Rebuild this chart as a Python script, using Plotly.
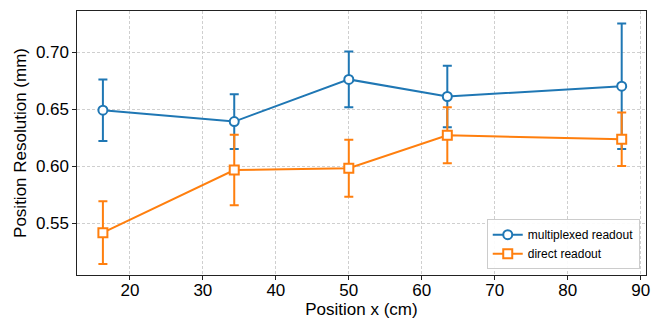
import plotly.graph_objects as go

x_pos = [16.3, 34.3, 50.0, 63.5, 87.4]
mux_res = [0.649, 0.639, 0.676, 0.661, 0.670]
mux_err = [0.027, 0.024, 0.0245, 0.027, 0.055]
dir_res = [0.5415, 0.5965, 0.598, 0.627, 0.6235]
dir_err = [0.0275, 0.031, 0.025, 0.0245, 0.0235]

blue = "#1f77b4"
orange = "#ff7f0e"
font = "Liberation Sans, Arial, sans-serif"

fig = go.Figure()
fig.add_trace(go.Scatter(
    x=x_pos, y=mux_res, name="multiplexed readout", mode="lines+markers",
    line=dict(color=blue, width=2),
    marker=dict(symbol="circle", size=9, color="white", line=dict(color=blue, width=2)),
    error_y=dict(type="data", array=mux_err, visible=True, color=blue, thickness=2, width=4.5),
))
fig.add_trace(go.Scatter(
    x=x_pos, y=dir_res, name="direct readout", mode="lines+markers",
    line=dict(color=orange, width=2),
    marker=dict(symbol="square", size=9, color="white", line=dict(color=orange, width=2)),
    error_y=dict(type="data", array=dir_err, visible=True, color=orange, thickness=2, width=4.5),
))

axis_common = dict(
    showline=True, linecolor="#222", linewidth=1.2, mirror=True,
    ticks="outside", ticklen=3.5, tickcolor="#222",
    showgrid=True, gridcolor="#cfcfcf", griddash="3px,2px", gridwidth=1,
    zeroline=False, tickfont=dict(size=17, color="black", family=font),
    automargin=False,
)
fig.update_xaxes(range=[12.75, 90.73], tickvals=[20, 30, 40, 50, 60, 70, 80, 90],
                 ticklabelstandoff=-4,
                 title=dict(text="Position x (cm)", font=dict(size=17, color="black", family=font), standoff=4),
                 **axis_common)
fig.update_yaxes(range=[0.5044, 0.736], tickvals=[0.55, 0.60, 0.65, 0.70], tickformat=".2f",
                 title=dict(text="Position Resolution (mm)", font=dict(size=17, color="black", family=font), standoff=4),
                 **axis_common)
fig.update_layout(
    width=665, height=320,
    margin=dict(l=77, r=19, t=11, b=45),
    plot_bgcolor="white", paper_bgcolor="white",
    font=dict(family=font, color="black"),
    legend=dict(x=0.989, y=0.022, xanchor="right", yanchor="bottom",
                bgcolor="rgba(255,255,255,0.9)", bordercolor="#cccccc", borderwidth=1,
                font=dict(size=12, family=font), tracegroupgap=0, itemwidth=30),
    showlegend=True,
)
fig.write_html("out.html", config={"displayModeBar": False},
               post_script="document.body.style.margin='0';document.body.style.overflow='hidden';")
